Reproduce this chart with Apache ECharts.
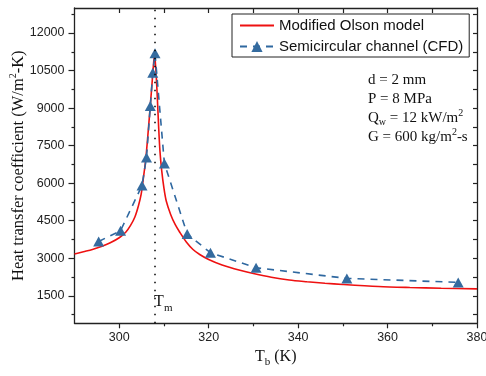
<!DOCTYPE html>
<html>
<head>
<meta charset="utf-8">
<script src="https://cdn.jsdelivr.net/npm/echarts@6/dist/echarts.min.js"></script>
<style>html,body{margin:0;padding:0;background:#fff}#c{width:486px;height:376px}</style>
</head>
<body>
<div id="c"></div>
<script>
// ---- data ----
const olsonT = [290, 292, 294, 296, 298, 300, 301.5, 302.5, 303.5, 304.3, 304.9, 305.4, 305.9, 306.4, 306.9, 307.3, 307.6, 307.9,
  308.2, 308.5, 308.8, 309.1, 309.5, 310.0, 310.5, 311.5, 312.5, 313.5, 315.0, 316.5, 318, 320, 323, 327, 330, 334, 338, 342, 346, 350, 358, 365, 372, 380];
const olsonH = [3170, 3260, 3350, 3470, 3620, 3820, 4050, 4300, 4650, 5100, 5550, 6200, 6900, 7900, 9000, 9900, 10600, 11150,
  10500, 9500, 8300, 7300, 6500, 5800, 5300, 4750, 4350, 4050, 3650, 3350, 3150, 2950, 2730, 2520, 2390, 2240, 2130, 2060, 2000, 1950, 1870, 1830, 1800, 1775];
const cfdT = [295.4, 300.3, 305.1, 306.1, 306.95, 307.5, 308.0, 310.1, 315.2, 320.4, 330.6, 350.9, 375.8];
const cfdH = [3670, 4100, 5910, 7030, 9080, 10410, 11190, 6790, 3970, 3220, 2620, 2195, 2035];
const TM = 308;
const xMin = 290, xMax = 380;
const yMin = 400, yMax = 13000;
const xMajor = [300, 320, 340, 360, 380];
const xMinor = [310, 330, 350, 370];
const xTop = [300, 310, 320, 330, 340, 350, 360, 370];
const yMajor = [1500, 3000, 4500, 6000, 7500, 9000, 10500, 12000];
const yMinor = [750, 2250, 3750, 5250, 6750, 8250, 9750, 11250, 12750];
const seriesNames = ['Modified Olson model', 'Semicircular channel (CFD)'];

const SANS = '"Liberation Sans", Arial, sans-serif';
const SERIF = '"Liberation Serif", "Times New Roman", serif';
const AX = '#222';

const chart = echarts.init(document.getElementById('c'), null, {renderer: 'canvas'});
const zip = (a, b) => a.map((v, i) => [v, b[i]]);
const plain = v => String(v);

const baseX = {type: 'value', min: xMin, max: xMax, splitLine: {show: false}};
const baseY = {type: 'value', min: yMin, max: yMax, splitLine: {show: false}};

chart.setOption({
  animation: false,
  grid: {left: 74.5, top: 8, right: 9, bottom: 52.7, outerBoundsMode: 'none', containLabel: false},
  xAxis: [
    Object.assign({}, baseX, {
      position: 'bottom',
      axisLine: {show: true, onZero: false, lineStyle: {color: AX, width: 1.3}},
      axisTick: {show: true, inside: false, length: 5, customValues: xMajor, lineStyle: {color: AX, width: 1.2}},
      axisLabel: {customValues: xMajor, formatter: plain, color: '#222', fontFamily: SANS, fontSize: 12.5, margin: 8},
      name: '{a|T}{b|b}{a| (K)}', nameLocation: 'middle', nameGap: 22, nameMoveOverlap: false,
      nameTextStyle: {rich: {
        a: {fontFamily: SERIF, fontSize: 16, color: '#111', lineHeight: 22},
        b: {fontFamily: SERIF, fontSize: 11, color: '#111', verticalAlign: 'bottom', lineHeight: 14}
      }}
    }),
    Object.assign({}, baseX, {
      position: 'bottom',
      axisLine: {show: false, onZero: false},
      axisTick: {show: true, inside: false, length: 3, customValues: xMinor, lineStyle: {color: AX, width: 1.2}},
      axisLabel: {show: false}
    }),
    Object.assign({}, baseX, {
      position: 'top',
      axisLine: {show: true, onZero: false, lineStyle: {color: AX, width: 1.3}},
      axisTick: {show: true, inside: true, length: 5, customValues: xTop, lineStyle: {color: AX, width: 1.2}},
      axisLabel: {show: false}
    })
  ],
  yAxis: [
    Object.assign({}, baseY, {
      position: 'left',
      axisLine: {show: true, onZero: false, lineStyle: {color: AX, width: 1.3}},
      axisTick: {show: true, inside: false, length: 6, customValues: yMajor, lineStyle: {color: AX, width: 1.2}},
      axisLabel: {customValues: yMajor, formatter: plain, color: '#222', fontFamily: SANS, fontSize: 12.5, margin: 10},
      name: '{a|Heat transfer coefficient (W/m}{s|2}{a|-K)}', nameLocation: 'middle', nameGap: 46, nameMoveOverlap: false,
      nameTextStyle: {rich: {
        a: {fontFamily: SERIF, fontSize: 16.5, color: '#111', lineHeight: 20},
        s: {fontFamily: SERIF, fontSize: 10, color: '#111', verticalAlign: 'top', lineHeight: 12}
      }}
    }),
    Object.assign({}, baseY, {
      position: 'left',
      axisLine: {show: false, onZero: false},
      axisTick: {show: true, inside: false, length: 3, customValues: yMinor, lineStyle: {color: AX, width: 1.2}},
      axisLabel: {show: false}
    }),
    Object.assign({}, baseY, {
      position: 'right',
      axisLine: {show: true, onZero: false, lineStyle: {color: AX, width: 1.3}},
      axisTick: {show: true, inside: true, length: 4, customValues: yMajor.concat(yMinor), lineStyle: {color: AX, width: 1.2}},
      axisLabel: {show: false}
    })
  ],
  legend: {
    orient: 'vertical', left: 232, top: 14,
    data: [
      {name: seriesNames[0], itemStyle: {color: 'rgba(0,0,0,0)', borderWidth: 0}},
      {name: seriesNames[1]}
    ],
    itemWidth: 34, itemHeight: 14, itemGap: 6,
    padding: [4, 6, 3, 7],
    borderColor: '#222', borderWidth: 1, backgroundColor: '#fff',
    textStyle: {fontFamily: SANS, fontSize: 15, color: '#111'}
  },
  series: [
    {
      name: seriesNames[0], type: 'line', xAxisIndex: 0, yAxisIndex: 0,
      data: zip(olsonT, olsonH), smooth: 0.3, showSymbol: false, symbol: 'none',
      lineStyle: {color: '#ee1111', width: 1.6}, itemStyle: {color: '#ee1111'},
      markLine: {
        silent: true, symbol: 'none', label: {show: false},
        lineStyle: {color: '#000', type: [1.5, 6.5], width: 1.5},
        data: [{xAxis: TM}]
      },
      z: 3
    },
    {
      name: seriesNames[1], type: 'line', xAxisIndex: 0, yAxisIndex: 0,
      data: zip(cfdT, cfdH), symbol: 'triangle', symbolSize: [11, 10],
      lineStyle: {color: '#2f68a0', width: 1.6, type: [7, 6]},
      itemStyle: {color: '#346b9f'},
      z: 4
    }
  ],
  graphic: [
    {type: 'text', x: 154, y: 302, style: {text: 'T', font: '16px ' + SERIF, fill: '#111', verticalAlign: 'middle'}},
    {type: 'text', x: 164, y: 308, style: {text: 'm', font: '11px ' + SERIF, fill: '#111', verticalAlign: 'middle'}},
    {type: 'text', x: 368, y: 80, style: {text: 'd = 2 mm', font: '15px ' + SERIF, fill: '#111', verticalAlign: 'middle'}},
    {type: 'text', x: 368, y: 99, style: {text: 'P = 8 MPa', font: '15px ' + SERIF, fill: '#111', verticalAlign: 'middle'}},
    {type: 'text', x: 368, y: 118, style: {
      text: '{a|Q}{b|w}{a| = 12 kW/m}{c|2}', verticalAlign: 'middle',
      rich: {
        a: {font: '15px ' + SERIF, fill: '#111', lineHeight: 19},
        b: {font: '10px ' + SERIF, fill: '#111', verticalAlign: 'bottom', lineHeight: 11},
        c: {font: '10px ' + SERIF, fill: '#111', verticalAlign: 'top', lineHeight: 11}
      }}},
    {type: 'text', x: 368, y: 137, style: {
      text: '{a|G = 600 kg/m}{c|2}{a|-s}', verticalAlign: 'middle',
      rich: {
        a: {font: '15px ' + SERIF, fill: '#111', lineHeight: 19},
        c: {font: '10px ' + SERIF, fill: '#111', verticalAlign: 'top', lineHeight: 11}
      }}}
  ]
});
</script>
</body>
</html>
